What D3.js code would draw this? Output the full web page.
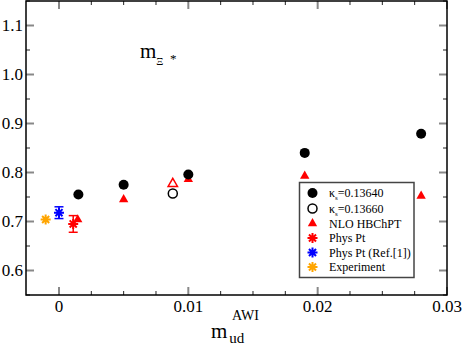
<!DOCTYPE html>
<html>
<head>
<meta charset="utf-8">
<script src="https://cdn.jsdelivr.net/npm/d3@7"></script>
<style>
  body { margin: 0; background: #fff; }
</style>
</head>
<body>
<div id="chart"></div>
<script>
/* Data */
const kappa13640 = [[0.0015, 0.755], [0.005, 0.775], [0.01, 0.796], [0.019, 0.840], [0.028, 0.879]]
const kappa13660 = [[0.0088, 0.757]]
const nloFilled = [[0.00145, 0.704], [0.005, 0.745], [0.01, 0.786], [0.019, 0.793], [0.028, 0.752]]
const nloOpen = [[0.0088, 0.777]]
const physPt = [[0.0011, 0.695, 0.017]]
const physPtRef = [[0, 0.718, 0.012]]
const experiment = [[-0.00103, 0.704]]
const xTicks = [0, 0.01, 0.02, 0.03]
const yTicks = [0.6, 0.7, 0.8, 0.9, 1.0, 1.1]
const legendLabels = ["κs=0.13640", "κs=0.13660", "NLO HBChPT", "Phys Pt", "Phys Pt (Ref.[1])", "Experiment"]

/* Dimensions */
const dimensions = { width: 463, height: 347, margin: { top: 1, right: 16, bottom: 52, left: 26 } }
dimensions.boundedWidth = dimensions.width - dimensions.margin.left - dimensions.margin.right
dimensions.boundedHeight = dimensions.height - dimensions.margin.top - dimensions.margin.bottom

const svg = d3.select("#chart").append("svg")
    .attr("width", dimensions.width)
    .attr("height", dimensions.height)
    .attr("font-family", "'Liberation Serif', 'DejaVu Serif', serif")

const bounds = svg.append("g")
    .attr("transform", `translate(${dimensions.margin.left},${dimensions.margin.top})`)

/* Scales */
const xScale = d3.scaleLinear()
    .domain([-0.00255, 0.03])
    .range([0, dimensions.boundedWidth])
const yScale = d3.scaleLinear()
    .domain([0.55, 1.15])
    .range([dimensions.boundedHeight, 0])

/* Ticks (inward on all four sides) */
const majorLen = 8, minorLen = 4
const xMinor = d3.range(0, 0.0301, 0.0025).filter(v => !xTicks.some(t => Math.abs(t - v) < 1e-9))
const yMinor = d3.range(0.55, 1.151, 0.05).filter(v => !yTicks.some(t => Math.abs(t - v) < 1e-9))
const tickG = bounds.append("g")
const addTicks = (vals, len, color, w) => {
  vals.forEach(v => {
    const x = xScale(v)
    tickG.append("line").attr("x1", x).attr("x2", x).attr("y1", dimensions.boundedHeight).attr("y2", dimensions.boundedHeight - len)
      .attr("stroke", color).attr("stroke-width", w)
    tickG.append("line").attr("x1", x).attr("x2", x).attr("y1", 0).attr("y2", len)
      .attr("stroke", color).attr("stroke-width", w)
  })
}
const addYTicks = (vals, len, color, w) => {
  vals.forEach(v => {
    const y = yScale(v)
    tickG.append("line").attr("x1", 0).attr("x2", len).attr("y1", y).attr("y2", y)
      .attr("stroke", color).attr("stroke-width", w)
    tickG.append("line").attr("x1", dimensions.boundedWidth).attr("x2", dimensions.boundedWidth - len).attr("y1", y).attr("y2", y)
      .attr("stroke", color).attr("stroke-width", w)
  })
}
addTicks(xTicks, majorLen, "#888", 2)
addTicks(xMinor, minorLen, "#222", 1)
addYTicks(yTicks, majorLen, "#888", 2)
addYTicks(yMinor, minorLen, "#222", 1)

/* Frame */
bounds.append("rect")
    .attr("width", dimensions.boundedWidth)
    .attr("height", dimensions.boundedHeight)
    .attr("fill", "none")
    .attr("stroke", "black")
    .attr("stroke-width", 1.5)

/* Tick labels */
bounds.append("g").selectAll("text")
    .data(xTicks)
    .enter().append("text")
    .attr("x", d => xScale(d))
    .attr("y", dimensions.boundedHeight + 17)
    .attr("text-anchor", "middle")
    .attr("font-size", 17)
    .text(d => d === 0 ? "0" : d3.format(".2f")(d))

bounds.append("g").selectAll("text")
    .data(yTicks)
    .enter().append("text")
    .attr("x", -3)
    .attr("y", d => yScale(d) + 5.5)
    .attr("text-anchor", "end")
    .attr("font-size", 17)
    .text(d => d3.format(".1f")(d))

/* Axis label */
const xLabel = svg.append("text").attr("x", 211).attr("y", 338).attr("font-size", 21)
xLabel.append("tspan").text("m")
xLabel.append("tspan").attr("dy", 5).attr("dx", 2).attr("font-size", 15).text("ud")
svg.append("text").attr("x", 232).attr("y", 320).attr("font-size", 14).text("AWI")

/* Title */
const title = svg.append("text").attr("x", 140).attr("y", 58).attr("font-size", 21)
title.append("tspan").text("m")
title.append("tspan").attr("dy", 7).attr("font-size", 11).text("Ξ")
svg.append("text").attr("x", 170).attr("y", 63).attr("font-size", 13).text("*")

/* Symbols */
const triangle = d3.symbol().type(d3.symbolTriangle).size(38)
const starPath = r => {
  let p = ""
  for (let i = 0; i < 4; i++) {
    const a = i * Math.PI / 4
    p += `M${-r * Math.cos(a)},${-r * Math.sin(a)}L${r * Math.cos(a)},${r * Math.sin(a)}`
  }
  return p
}

const drawErr = (data, color) => {
  const g = bounds.append("g").attr("stroke", color).attr("stroke-width", 1.5)
  data.forEach(d => {
    const x = xScale(d[0]), y1 = yScale(d[1] - d[2]), y2 = yScale(d[1] + d[2])
    g.append("line").attr("x1", x).attr("x2", x).attr("y1", y1).attr("y2", y2)
    g.append("line").attr("x1", x - 4.5).attr("x2", x + 4.5).attr("y1", y1).attr("y2", y1)
    g.append("line").attr("x1", x - 4.5).attr("x2", x + 4.5).attr("y1", y2).attr("y2", y2)
  })
}
const drawStars = (data, color) => {
  bounds.append("g").selectAll("path")
    .data(data)
    .enter().append("path")
    .attr("transform", d => `translate(${xScale(d[0])},${yScale(d[1])})`)
    .attr("d", starPath(5))
    .attr("stroke", color)
    .attr("stroke-width", 2)
}

drawErr(physPtRef, "blue")
drawErr(physPt, "red")

bounds.append("g").selectAll("path")
    .data(nloFilled)
    .enter().append("path")
    .attr("transform", d => `translate(${xScale(d[0])},${yScale(d[1])})`)
    .attr("d", triangle)
    .attr("fill", "red")

bounds.append("g").selectAll("path")
    .data(nloOpen)
    .enter().append("path")
    .attr("transform", d => `translate(${xScale(d[0])},${yScale(d[1])})`)
    .attr("d", triangle)
    .attr("fill", "white")
    .attr("stroke", "red")
    .attr("stroke-width", 1.5)

bounds.append("g").selectAll("circle")
    .data(kappa13640)
    .enter().append("circle")
    .attr("cx", d => xScale(d[0]))
    .attr("cy", d => yScale(d[1]))
    .attr("r", 5)
    .attr("fill", "black")

bounds.append("g").selectAll("circle")
    .data(kappa13660)
    .enter().append("circle")
    .attr("cx", d => xScale(d[0]))
    .attr("cy", d => yScale(d[1]))
    .attr("r", 4.5)
    .attr("fill", "white")
    .attr("stroke", "black")
    .attr("stroke-width", 1.5)

drawStars(physPt, "red")
drawStars(physPtRef, "blue")
drawStars(experiment, "orange")

/* Legend */
const legend = svg.append("g")
legend.append("rect")
    .attr("x", 299.5).attr("y", 182.5)
    .attr("width", 114.5).attr("height", 95)
    .attr("fill", "white")
    .attr("stroke", "#444")
    .attr("stroke-width", 1.5)

const rowY = [193, 208.5, 223.5, 238, 252.5, 267]
const symX = 312.5, textX = 329
legendLabels.forEach((label, i) => {
  const y = rowY[i]
  if (i === 0) legend.append("circle").attr("cx", symX).attr("cy", y).attr("r", 5).attr("fill", "black")
  if (i === 1) legend.append("circle").attr("cx", symX).attr("cy", y).attr("r", 4.5).attr("fill", "white").attr("stroke", "black").attr("stroke-width", 1.5)
  if (i === 2) legend.append("path").attr("transform", `translate(${symX},${y})`).attr("d", triangle).attr("fill", "red")
  if (i >= 3) legend.append("path").attr("transform", `translate(${symX},${y})`).attr("d", starPath(5))
      .attr("stroke", ["red", "blue", "orange"][i - 3]).attr("stroke-width", 2)
  const t = legend.append("text").attr("x", textX).attr("y", y + 4).attr("font-size", 12)
  if (label.startsWith("κs")) {
    t.append("tspan").text("κ")
    t.append("tspan").attr("dy", 3).attr("font-size", 7).text("s")
    t.append("tspan").attr("dy", -3).text(label.slice(2))
  } else {
    t.text(label)
  }
})
</script>
</body>
</html>
